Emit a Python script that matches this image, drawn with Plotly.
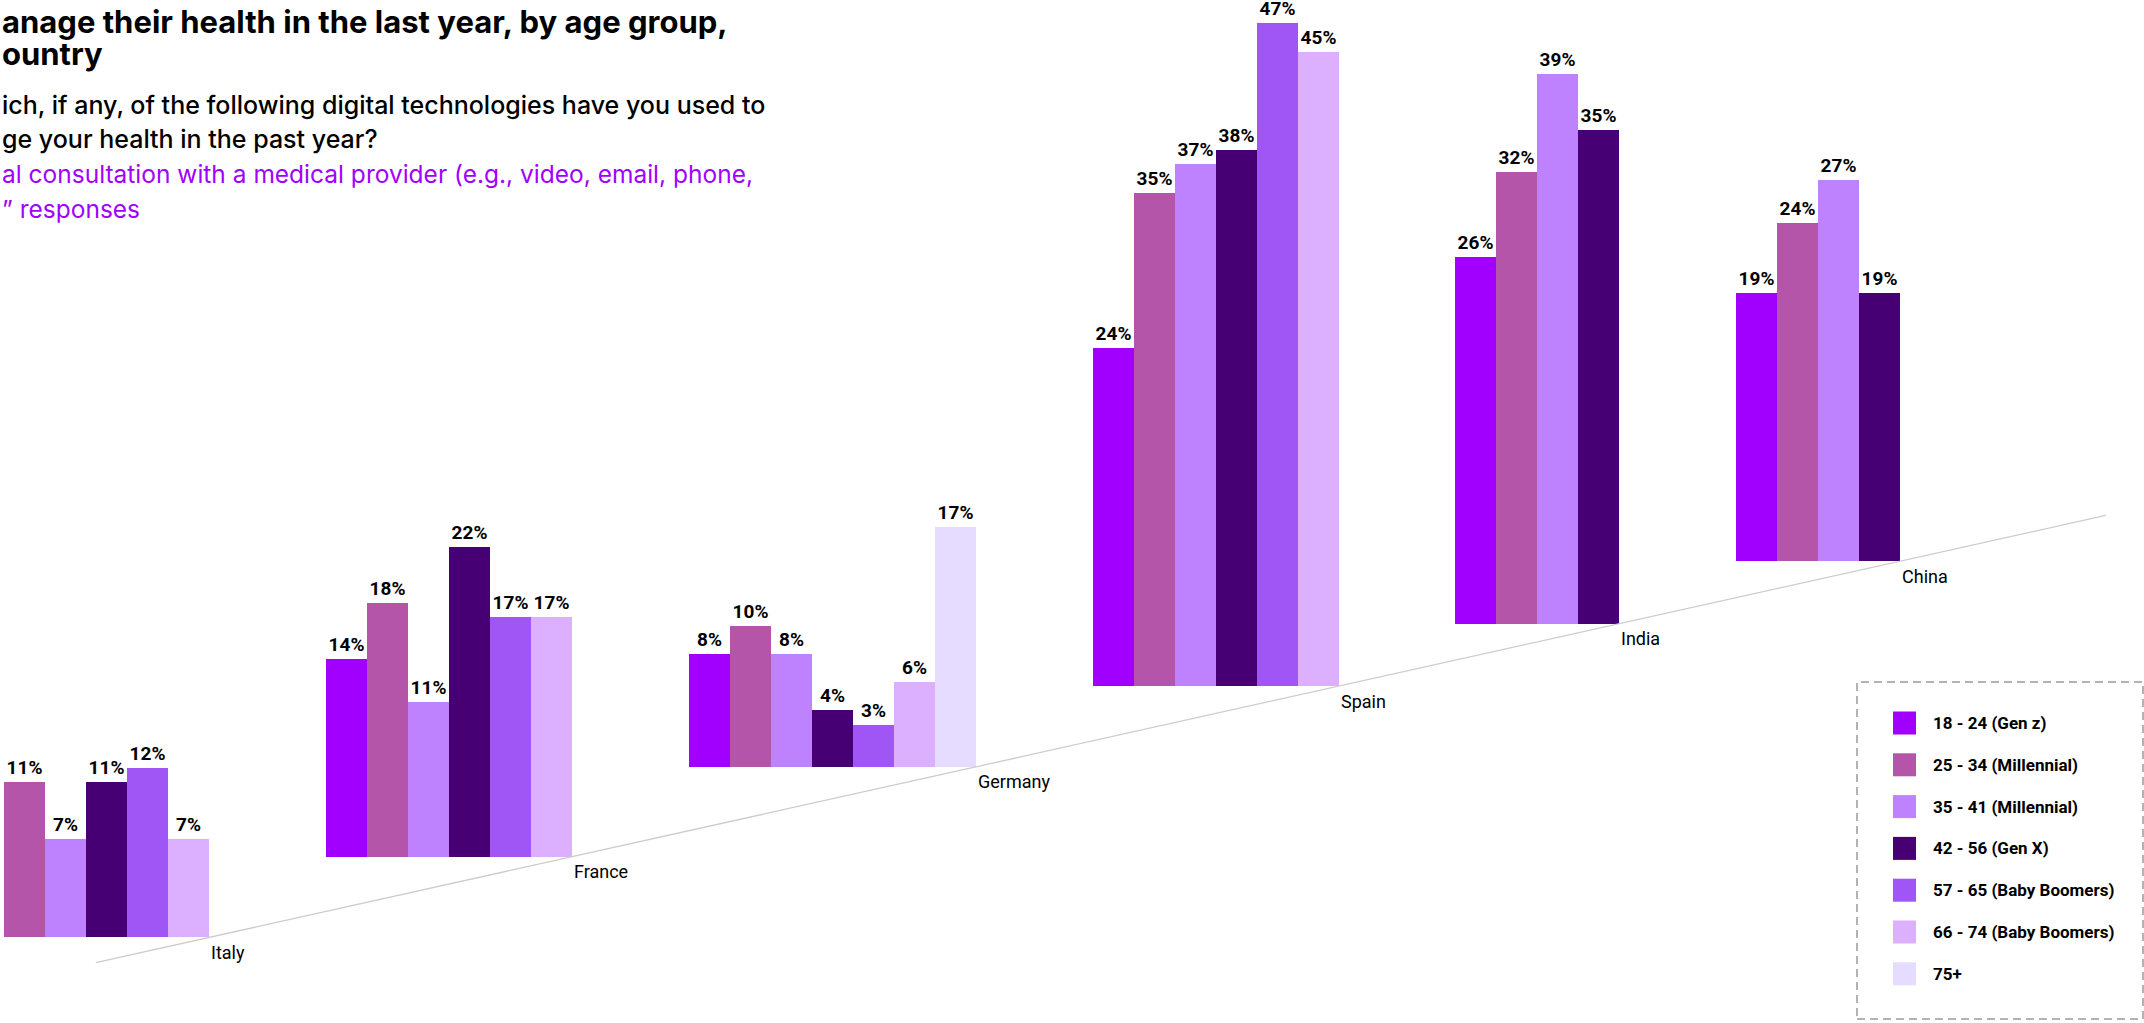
import plotly.graph_objects as go

# ---- data -------------------------------------------------------------
countries = ["Italy", "France", "Germany", "Spain", "India", "China"]
age_groups = [
    "18 - 24 (Gen z)",
    "25 - 34 (Millennial)",
    "35 - 41 (Millennial)",
    "42 - 56 (Gen X)",
    "57 - 65 (Baby Boomers)",
    "66 - 74 (Baby Boomers)",
    "75+",
]
colors = ["#A100FF", "#B455AA", "#BE82FF", "#460073", "#A055F5", "#DCAFFF", "#E6DCFF"]

# share (%) of respondents per country, one list per age group (None = not reported)
age_18_24 = [None, 14, 8, 24, 26, 19]
age_25_34 = [11, 18, 10, 35, 32, 24]
age_35_41 = [7, 11, 8, 37, 39, 27]
age_42_56 = [11, 22, 4, 38, 35, 19]
age_57_65 = [12, 17, 3, 47, None, None]
age_66_74 = [7, 17, 6, 45, None, None]
age_75_up = [None, None, 17, None, None, None]
series = [age_18_24, age_25_34, age_35_41, age_42_56, age_57_65, age_66_74, age_75_up]

title_lines = [
    "anage their health in the last year, by age group,",
    "ountry",
]
question_lines = [
    "ich, if any, of the following digital technologies have you used to",
    "ge your health in the past year?",
]
answer_lines = [
    "al consultation with a medical provider (e.g., video, email, phone,",
    "\u201d responses",
]

# ---- layout geometry ---------------------------------------------------
W, H = 2144, 1023
BAR_PX = 41.0          # pixel width of one bar slot
PCT_PX = 14.1          # pixels per percentage point
GROUP_GAP = 2.85       # gap between country groups, in bar slots
FIRST_SLOT_PX = -37.0  # page position of the first slot
FLOOR_X0, FLOOR_X1 = 3.24, 52.26   # receding floor line (bar-slot units)
FLOOR_Y0, FLOOR_SLOPE = 4.28, 0.647

FONT = "Roboto"
HEAD_FONT = "Inter"

# slots per country run up to the last reported age group
slot_counts = []
for ci in range(len(countries)):
    last = max(gi for gi, s in enumerate(series) if s[ci] is not None)
    slot_counts.append(last + 1)

group_start = []
pos = 0.0
for n in slot_counts:
    group_start.append(pos)
    pos += n + GROUP_GAP
group_end = [s + n for s, n in zip(group_start, slot_counts)]


def floor_y(x):
    return FLOOR_Y0 + FLOOR_SLOPE * (x - FLOOR_X0)


baselines = [floor_y(e) for e in group_end]

fig = go.Figure()

# floor line
fig.add_trace(go.Scatter(
    x=[FLOOR_X0, FLOOR_X1], y=[floor_y(FLOOR_X0), floor_y(FLOOR_X1)],
    mode="lines", line=dict(color="#cccccc", width=1.3),
    hoverinfo="skip", showlegend=False,
))

for gi, (name, vals, col) in enumerate(zip(age_groups, series, colors)):
    xs, ys, bs, txt = [], [], [], []
    for ci, v in enumerate(vals):
        if v is None:
            continue
        xs.append(group_start[ci] + gi + 0.5)
        ys.append(v)
        bs.append(baselines[ci])
        txt.append(f"<b>{v}%</b>")
    fig.add_trace(go.Bar(
        x=xs, y=ys, base=bs, width=1.0, name=name,
        marker=dict(color=col, line=dict(width=0)),
        text=txt, textposition="outside", constraintext="none",
        textfont=dict(family=FONT, size=19, color="#000000"),
        cliponaxis=False, showlegend=False,
    ))

annotations = []
# country labels sit just past each group's end, under the floor line
for ci, c in enumerate(countries):
    annotations.append(dict(
        x=group_end[ci], y=baselines[ci], xref="x", yref="y",
        text=c, showarrow=False, xanchor="left", yanchor="middle",
        yshift=-15, font=dict(family=FONT, size=18, color="#000000"),
    ))


def px_to_paper(xp, yp):
    return xp / W, 1 - yp / H


# headline and question text
for i, line in enumerate(title_lines):
    _, yp = px_to_paper(0, 22 + 32 * i)
    annotations.append(dict(
        x=0, y=yp, xref="paper", yref="paper", text=f"<b>{line}</b>",
        showarrow=False, xanchor="left", yanchor="middle",
        font=dict(family=HEAD_FONT, size=31, color="#000000"),
    ))
for i, line in enumerate(question_lines + answer_lines):
    _, yp = px_to_paper(0, 104.5 + 34.7 * i)
    is_question = i < len(question_lines)
    annotations.append(dict(
        x=0, y=yp, xref="paper", yref="paper", text=line,
        showarrow=False, xanchor="left", yanchor="middle",
        font=dict(family=HEAD_FONT, size=25 if is_question else 24.5,
                  weight=500 if is_question else 400,
                  color="#000000" if is_question else "#A100FF"),
    ))

# legend box
shapes = []
bx0, by0 = px_to_paper(1857, 682)
bx1, by1 = px_to_paper(2143, 1019)
shapes.append(dict(
    type="rect", xref="paper", yref="paper", x0=bx0, x1=bx1, y0=by1, y1=by0,
    line=dict(color="#9a9a9a", width=1.5, dash="8px,5px"), fillcolor="rgba(0,0,0,0)",
))
for gi, (name, col) in enumerate(zip(age_groups, colors)):
    cy = 723 + 41.8 * gi
    sx0, sy0 = px_to_paper(1893, cy - 11.5)
    sx1, sy1 = px_to_paper(1916, cy + 11.5)
    shapes.append(dict(
        type="rect", xref="paper", yref="paper", x0=sx0, x1=sx1, y0=sy1, y1=sy0,
        fillcolor=col, line=dict(width=0),
    ))
    tx, ty = px_to_paper(1931, cy)
    annotations.append(dict(
        x=tx, y=ty, xref="paper", yref="paper", text=f"<b>{name}</b>",
        showarrow=False, xanchor="left", yanchor="middle",
        font=dict(family=FONT, size=17, color="#000000"),
    ))

x_lo = -FIRST_SLOT_PX / BAR_PX
fig.update_layout(
    width=W, height=H,
    margin=dict(l=0, r=0, t=0, b=0),
    paper_bgcolor="#ffffff", plot_bgcolor="#ffffff",
    barmode="overlay", bargap=0,
    xaxis=dict(range=[x_lo, x_lo + W / BAR_PX], visible=False, fixedrange=True),
    yaxis=dict(range=[0, H / PCT_PX], visible=False, fixedrange=True),
    annotations=annotations, shapes=shapes,
    showlegend=False,
)

fig.write_html("out.html")
